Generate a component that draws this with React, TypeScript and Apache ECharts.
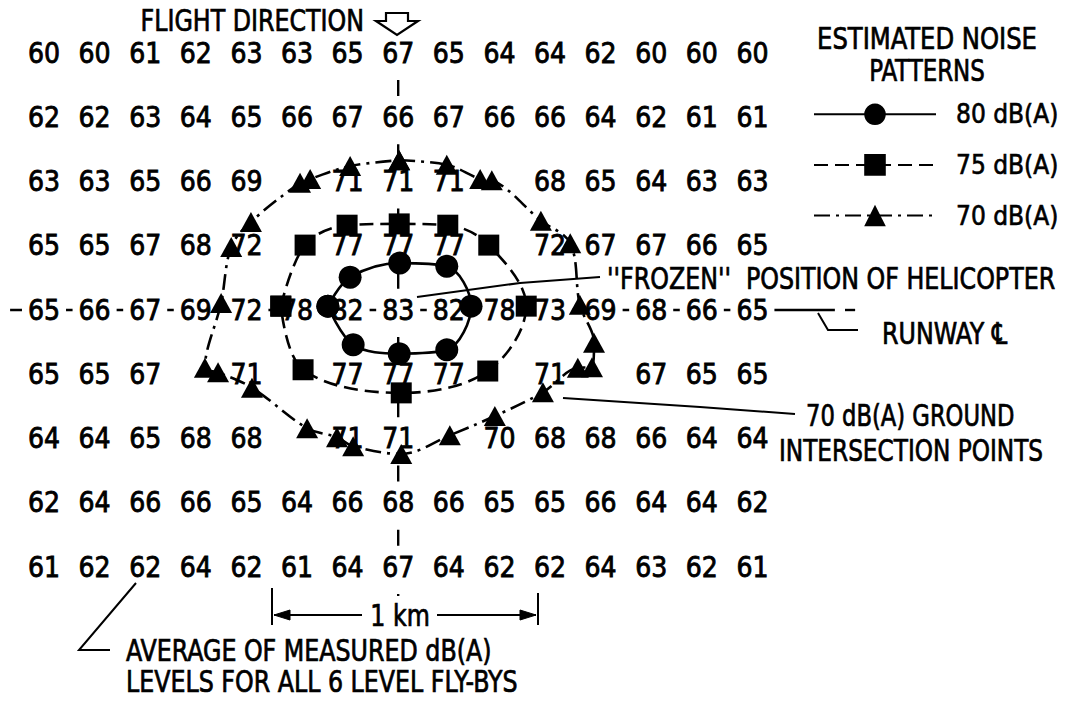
import React, { useEffect, useRef } from "react";
import * as echarts from "echarts";

// ---- Data -----------------------------------------------------------------
// Measured average dB(A) levels at ground stations: 15 columns x 9 rows.
// null = no printed value (cell occupied by a contour marker).
const STATION_COLUMNS = [0, 1, 2, 3, 4, 5, 6, 7, 8, 9, 10, 11, 12, 13, 14];
const ROW_1 = [60, 60, 61, 62, 63, 63, 65, 67, 65, 64, 64, 62, 60, 60, 60];
const ROW_2 = [62, 62, 63, 64, 65, 66, 67, 66, 67, 66, 66, 64, 62, 61, 61];
const ROW_3 = [63, 63, 65, 66, 69, null, 71, 71, 71, null, 68, 65, 64, 63, 63];
const ROW_4 = [65, 65, 67, 68, 72, null, 77, 77, 77, null, 72, 67, 67, 66, 65];
const ROW_5 = [65, 66, 67, 69, 72, 78, 82, 83, 82, 78, 73, 69, 68, 66, 65];
const ROW_6 = [65, 65, 67, null, 71, null, 77, 77, 77, null, 71, null, 67, 65, 65];
const ROW_7 = [64, 64, 65, 68, 68, null, 71, 71, null, 70, 68, 68, 66, 64, 64];
const ROW_8 = [62, 64, 66, 66, 65, 64, 66, 68, 66, 65, 65, 66, 64, 64, 62];
const ROW_9 = [61, 62, 62, 64, 62, 61, 64, 67, 64, 62, 62, 64, 63, 62, 61];
const MEASURED_ROWS = [ROW_1, ROW_2, ROW_3, ROW_4, ROW_5, ROW_6, ROW_7, ROW_8, ROW_9];

// Estimated noise-pattern contours, in station units [column, row]
const CONTOUR_80 = [
  [5.61, 3.94], [6.05, 3.49], [7.03, 3.27], [7.96, 3.32], [8.44, 3.94],
  [7.96, 4.62], [7.02, 4.68], [6.11, 4.54],
];
const CONTOUR_75 = [
  [4.68, 3.94], [5.16, 2.99], [5.99, 2.68], [7.02, 2.66], [7.98, 2.68],
  [8.79, 2.99], [9.53, 3.94], [8.77, 4.95], [7.06, 5.29], [5.12, 4.93],
];
const CONTOUR_70 = [
  [7.02, 1.67], [7.96, 1.74], [8.62, 1.96], [8.85, 1.98], [9.82, 2.61],
  [10.4, 2.96], [10.59, 3.92], [10.87, 4.51], [10.83, 4.89], [10.55, 4.9],
  [9.86, 5.28], [8.91, 5.65], [8.02, 5.95], [7.06, 6.24], [6.11, 6.12],
  [5.79, 5.98], [5.2, 5.84], [4.11, 5.21], [3.44, 4.97], [3.18, 4.9],
  [3.5, 3.89], [3.7, 3.02], [4.09, 2.63], [5.06, 2.02], [5.26, 1.96],
  [6.05, 1.76],
];
const LEVEL_NAMES = ["80 dB(A)", "75 dB(A)", "70 dB(A)"];

// Reference lines
const RUNWAY_ROW = 4;
const TRACK_COL = 7;
const RUNWAY_SPAN = [-0.67, 15.63];
const RUNWAY_TAIL = [15.83, 16.03];
const TRACK_SPAN = [0.42, 8.45];

// ---- Layout ---------------------------------------------------------------
const W = 1066;
const H = 702;
const X0 = 44; // pixel x of column 0
const DX = 50.6; // pixels per column
const Y0 = 53; // pixel y of row 0
const DY = 64.25; // pixels per row
const INK = "#000";
const FONT = '"Liberation Sans Narrow", "DejaVu Sans Condensed", "Liberation Sans", sans-serif';
const LW = 2.6;
const SX = 0.88;

function txt(text: string, x: number, y: number, align: string = "left", size = 30, sx = SX) {
  return {
    type: "text",
    x,
    y,
    scaleX: sx,
    z: 20,
    style: {
      text,
      fill: INK,
      stroke: INK,
      lineWidth: 0.7,
      font: `${size}px ${FONT}`,
      align,
      textAlign: align,
      verticalAlign: "middle",
      textVerticalAlign: "middle",
    },
  };
}

function poly(points: number[][], width = 2) {
  return {
    type: "polyline",
    z: 20,
    shape: { points },
    style: { stroke: INK, lineWidth: width, fill: null },
  };
}

function polygon(points: number[][], filled: boolean) {
  return {
    type: "polygon",
    z: 20,
    shape: { points },
    style: filled ? { fill: INK, stroke: INK, lineWidth: 1 } : { fill: "#fff", stroke: INK, lineWidth: 2.2 },
  };
}

function closed(pts: number[][]) {
  return [...pts, pts[0]];
}

export default function App() {
  const ref = useRef<HTMLDivElement>(null);

  useEffect(() => {
    if (!ref.current) return;
    const chart = echarts.init(ref.current, null, { renderer: "svg" });

    const levelPoints: any[] = [];
    MEASURED_ROWS.forEach((row, r) => {
      row.forEach((v, i) => {
        if (v !== null) levelPoints.push([STATION_COLUMNS[i], r, v]);
      });
    });

    const contourSeries = (name: string, pts: number[][], symbol: string, size: any, dash: any) => ({
      name,
      type: "line",
      data: closed(pts),
      smooth: 0.35,
      symbol,
      symbolSize: size,
      showSymbol: true,
      clip: false,
      z: 5,
      silent: true,
      itemStyle: { color: INK, borderWidth: 0 },
      lineStyle: { color: INK, width: LW, type: dash },
      emphasis: { disabled: true },
    });

    const option: any = {
      animation: false,
      backgroundColor: "#fff",
      grid: { left: 0, top: 0, width: W, height: H, containLabel: false },
      xAxis: {
        type: "value",
        min: -X0 / DX,
        max: (W - X0) / DX,
        show: false,
      },
      yAxis: {
        type: "value",
        inverse: true,
        min: -Y0 / DY,
        max: (H - Y0) / DY,
        show: false,
      },
      legend: {
        data: LEVEL_NAMES,
        orient: "vertical",
        left: 813,
        top: 101,
        padding: 0,
        itemWidth: 122,
        itemHeight: 27,
        itemGap: 24,
        selectedMode: false,
        textStyle: {
          fontSize: 26,
          fontFamily: FONT,
          color: INK,
          textBorderColor: INK,
          textBorderWidth: 0.6,
          padding: [0, 0, 0, 15],
        },
      },
      series: [
        {
          name: "track",
          type: "line",
          data: [[TRACK_COL, TRACK_SPAN[0]], [TRACK_COL, TRACK_SPAN[1]]],
          symbol: "none",
          z: 1,
          silent: true,
          clip: false,
          lineStyle: { color: INK, width: 2.4, type: [16, DY - 16] },
        },
        {
          name: "runway",
          type: "line",
          data: [[RUNWAY_SPAN[0], RUNWAY_ROW], [RUNWAY_SPAN[1], RUNWAY_ROW]],
          symbol: "none",
          z: 1,
          silent: true,
          clip: false,
          lineStyle: { color: INK, width: 2.4, type: "solid" },
        },
        {
          name: "runway-tail",
          type: "line",
          data: [[RUNWAY_TAIL[0], RUNWAY_ROW], [RUNWAY_TAIL[1], RUNWAY_ROW]],
          symbol: "none",
          z: 1,
          silent: true,
          clip: false,
          lineStyle: { color: INK, width: 2.4, type: "solid" },
        },
        {
          name: "measured",
          type: "scatter",
          data: levelPoints,
          symbolSize: 1,
          z: 3,
          silent: true,
          clip: false,
          itemStyle: { color: "#fff", opacity: 1 },
          label: {
            show: true,
            position: "inside",
            formatter: (p: any) => String(p.value[2]),
            fontSize: 28,
            fontFamily: FONT,
            color: INK,
            opacity: 1,
            textBorderColor: INK,
            textBorderWidth: 0.8,
            backgroundColor: "#fff",
            padding: [1, 6],
          },
        },
        contourSeries(LEVEL_NAMES[0], CONTOUR_80, "circle", 23, "solid"),
        contourSeries(LEVEL_NAMES[1], CONTOUR_75, "rect", 21, [14, 7]),
        contourSeries(LEVEL_NAMES[2], CONTOUR_70, "triangle", [22, 20], [16, 6, 3, 6]),
      ],
      graphic: [
        txt("FLIGHT DIRECTION", 364, 21, "right"),
        polygon([[386, 13], [408, 13], [408, 21], [418, 21], [397, 35], [376, 21], [386, 21]], false),
        txt("ESTIMATED NOISE", 927, 39, "center", 30, 0.9),
        txt("PATTERNS", 927, 71, "center", 30, 0.85),
        poly([[417, 297], [520, 283], [600, 277]]),
        txt("''FROZEN''  POSITION OF HELICOPTER", 607, 279),
        poly([[818, 313], [828, 330], [858, 330]]),
        txt("RUNWAY \u2104", 882, 334),
        poly([[563, 398], [700, 407], [795, 414]]),
        txt("70 dB(A) GROUND", 806, 416, "left", 30, 0.84),
        txt("INTERSECTION POINTS", 779, 451, "left", 30, 0.86),
        poly([[272, 588], [272, 625]]),
        poly([[538, 593], [538, 625]]),
        poly([[274, 615], [362, 615]]),
        poly([[437, 615], [536, 615]]),
        polygon([[274, 615], [290, 610], [290, 620]], true),
        polygon([[536, 615], [520, 610], [520, 620]], true),
        txt("1 km", 400, 616, "center"),
        poly([[136, 583], [79, 650], [110, 650]]),
        txt("AVERAGE OF MEASURED dB(A)", 126, 651),
        txt("LEVELS FOR ALL 6 LEVEL FLY-BYS", 126, 682),
      ],
    };

    chart.setOption(option);
    return () => chart.dispose();
  }, []);

  return (
    <div
      ref={ref}
      style={{ position: "absolute", left: 0, top: 0, width: W, height: H, background: "#fff" }}
    />
  );
}
